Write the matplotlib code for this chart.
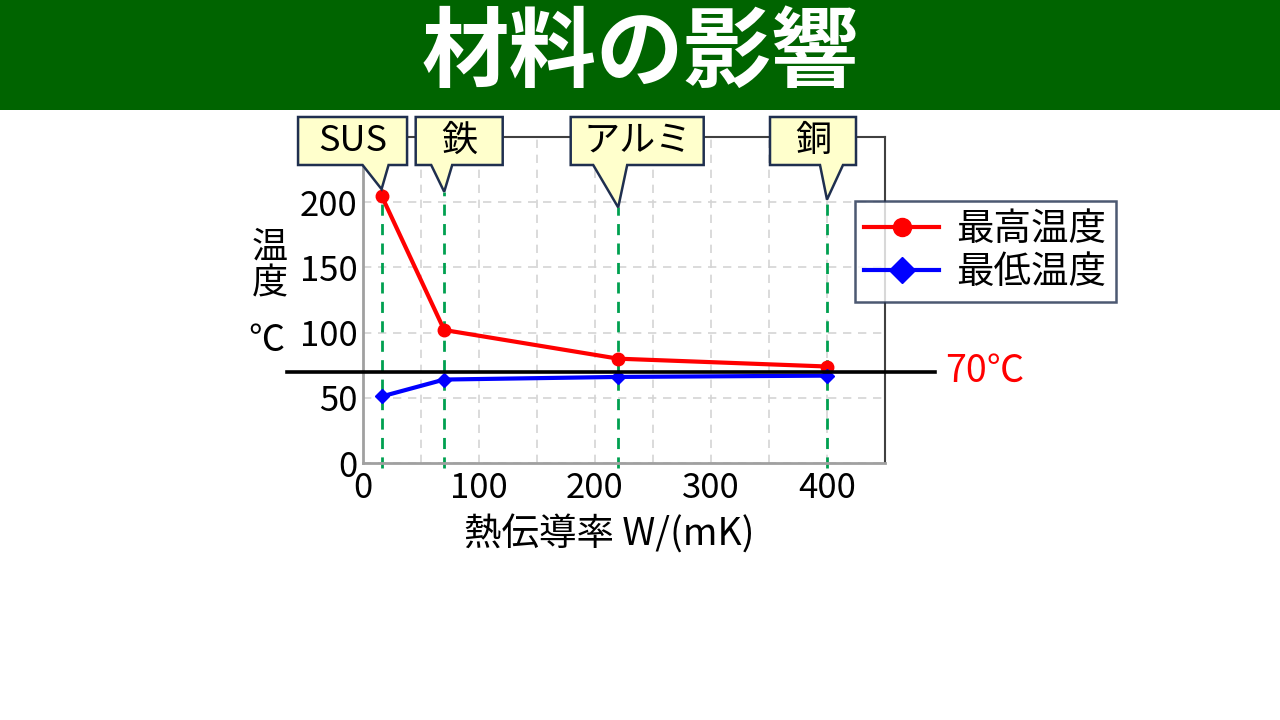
import numpy as np
import matplotlib.pyplot as plt
from matplotlib.patches import Rectangle, Polygon

plt.rcParams['font.family'] = ['Noto Sans CJK JP', 'DejaVu Sans']

# data
materials = ['SUS', '鉄', 'アルミ', '銅']
conductivity = [16, 70, 220, 400]
max_temp = [205, 102, 80, 74]
min_temp = [51, 64, 66, 67]
limit_temp = 70
callout_tip = [210, 208, 196, 202]

W, H = 1280, 720
fig = plt.figure(figsize=(12.8, 7.2), dpi=100)

# title bar
fig.patches.append(Rectangle((0, 1 - 110 / H), 1, 110 / H, transform=fig.transFigure,
                             facecolor='#006400', edgecolor='none', zorder=0))
fig.text(0.5, 1 - 55 / H, '材料の影響', color='white', fontsize=63, fontweight='bold',
         ha='center', va='center')

ax = fig.add_axes([363 / W, 1 - 463 / H, 522 / W, 326 / H])
ax.set_xlim(0, 450)
ax.set_ylim(0, 250)
ax.set_xticks([0, 100, 200, 300, 400])
ax.set_yticks([0, 50, 100, 150, 200])
ax.set_xticks(np.arange(0, 451, 50), minor=True)
ax.grid(True, which='both', axis='x', color='#d4d4d4', linestyle=(0, (5, 4)), linewidth=1.2)
ax.grid(True, axis='y', color='#d4d4d4', linestyle=(0, (5, 4)), linewidth=1.2)
ax.tick_params(length=0, which='both', labelsize=25)
ax.tick_params(axis='x', pad=6)
ax.tick_params(axis='y', pad=4)
for s in ['left', 'bottom']:
    ax.spines[s].set_color('#a0a0a0')
    ax.spines[s].set_linewidth(2)
for s in ['top', 'right']:
    ax.spines[s].set_color('#404040')
    ax.spines[s].set_linewidth(1.5)

# material markers
for x, yt in zip(conductivity, callout_tip):
    ax.plot([x, x], [-4, yt], color='#00A050', linestyle=(0, (4, 3)), linewidth=2,
            clip_on=False, zorder=2)

ax.plot(conductivity, max_temp, color='#ff0000', marker='o', markersize=9, linewidth=3,
        label='最高温度', zorder=4)
ax.plot(conductivity, min_temp, color='#0000ff', marker='D', markersize=7, linewidth=3,
        label='最低温度', zorder=4)

ax.axhline(limit_temp, xmin=-0.146, xmax=1.096, color='black', linewidth=2.6, clip_on=False, zorder=5)
ax.text(1.115, limit_temp, f'{limit_temp}℃', color='#ff0000', fontsize=27,
        transform=ax.get_yaxis_transform(), ha='left', va='center')

ax.set_xlabel('熱伝導率 W/(mK)', fontsize=27)
ax.xaxis.set_label_coords((609 - 363) / 522, -(535 - 463) / 326)
ax.xaxis.label.set_va('center')
fig.text(270 / W, 1 - 266 / H, '温\n度', fontsize=26, ha='center', va='center', linespacing=1.0)
fig.text(266 / W, 1 - 341 / H, '℃', fontsize=26, ha='center', va='center')

leg = fig.legend(loc='upper left', bbox_to_anchor=(855 / W, 1 - 201 / H), fontsize=27,
                 frameon=True, fancybox=False, handlelength=2.0, borderpad=0.25,
                 labelspacing=0.1, handletextpad=0.45, borderaxespad=0)
leg.get_frame().set_edgecolor('#1f2f4f')
leg.get_frame().set_linewidth(1.8)
for h in leg.legend_handles:
    h.set_markersize(13)

# callouts: box geometry relative to tip, in pixels
box_offset = [-29, 15, 19, -14]
box_width = [109, 87, 133, 86]
base_span = [(-19, 7), (-13, 8), (-25, 9), (-7, 16)]
box_top, box_bot = 117, 165
for name, x, yt, off, bw, (b0, b1) in zip(materials, conductivity, callout_tip,
                                           box_offset, box_width, base_span):
    tx, ty = ax.transData.transform((x, yt))
    cx = tx + off
    l, r = cx - bw / 2, cx + bw / 2
    top, bot = H - box_top, H - box_bot
    pts = [(l, top), (r, top), (r, bot), (tx + b1, bot), (tx, ty), (tx + b0, bot), (l, bot)]
    fig.patches.append(Polygon(pts, closed=True, transform=None, facecolor='#ffffcc',
                               edgecolor='#1f2f4f', linewidth=1.8, zorder=6))
    fig.text(cx / W, (top + bot) / 2 / H, name, fontsize=26, ha='center', va='center', zorder=7)

fig.savefig('out.png', dpi=100)
